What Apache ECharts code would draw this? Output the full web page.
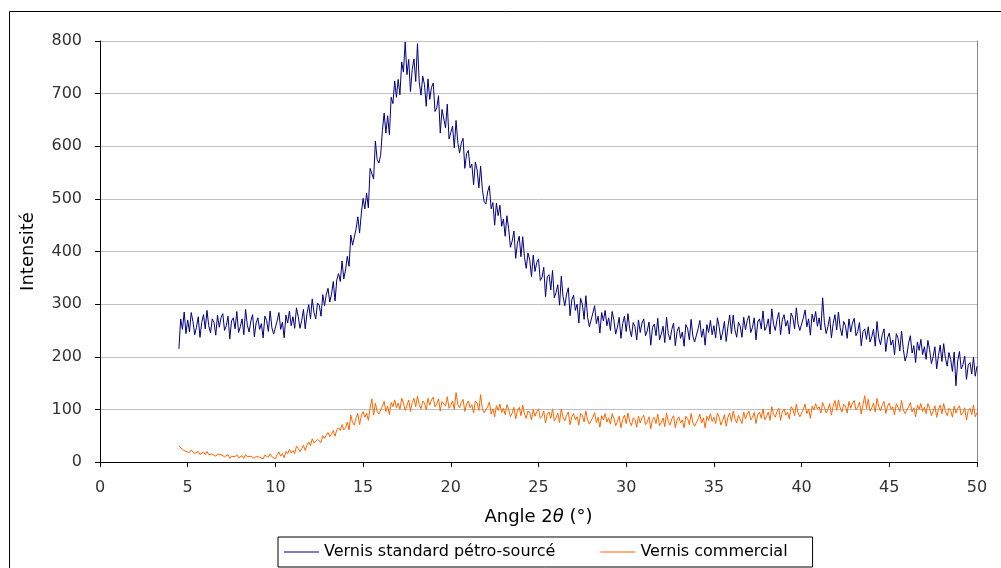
<!DOCTYPE html>
<html>
<head>
<meta charset="utf-8">
<script src="https://cdn.jsdelivr.net/npm/echarts@6/dist/echarts.min.js"></script>
<style>
html,body{margin:0;padding:0;background:#fff;}
#chart{width:1001px;height:568px;}
</style>
</head>
<body>
<div id="chart"></div>
<script>
// Angle grid: first angle and sampling step (degrees 2θ)
const ANGLE_START = 4.5;
const ANGLE_STEP = 0.1;

const seriesNames = ["Vernis standard pétro-sourcé", "Vernis commercial"];
const xTicks = [0, 5, 10, 15, 20, 25, 30, 35, 40, 45, 50];
const yTicks = [0, 100, 200, 300, 400, 500, 600, 700, 800];

// Vernis standard pétro-sourcé (4.5° .. 50.0°)
const standardValues = [
  215, 272, 252, 285, 244,
  270, 247, 284, 267, 242, 256, 276, 237, 265, 280,
  253, 288, 259, 245, 272, 265, 241, 279, 256, 274,
  282, 250, 259, 277, 234, 268, 274, 253, 286, 246,
  257, 272, 242, 290, 260, 247, 268, 280, 238, 264,
  274, 252, 263, 236, 277, 269, 248, 287, 255, 243,
  244, 268, 284, 252, 266, 236, 279, 264, 287, 259,
  276, 254, 293, 277, 254, 269, 290, 253, 282, 299,
  272, 310, 284, 272, 302, 298, 277, 318, 297, 318,
  330, 304, 319, 343, 306, 346, 358, 343, 382, 348,
  365, 391, 372, 431, 412, 411, 443, 466, 435, 473,
  501, 481, 511, 483, 558, 559, 538, 610, 575, 568,
  583, 630, 663, 625, 658, 622, 693, 681, 724, 693,
  727, 698, 760, 741, 798, 736, 765, 704, 746, 766,
  723, 795, 722, 697, 733, 717, 676, 728, 689, 712,
  720, 666, 673, 696, 625, 670, 673, 635, 680, 614,
  626, 638, 597, 649, 607, 587, 606, 615, 558, 586,
  592, 559, 566, 527, 570, 555, 521, 562, 518, 495,
  490, 513, 525, 481, 493, 450, 492, 468, 488, 448,
  462, 429, 468, 443, 408, 420, 439, 387, 416, 429,
  390, 428, 389, 368, 397, 384, 352, 393, 362, 379,
  386, 345, 351, 370, 314, 352, 356, 327, 364, 312,
  322, 337, 298, 353, 314, 297, 319, 331, 278, 308,
  317, 288, 300, 264, 311, 300, 271, 316, 275, 257,
  260, 283, 297, 263, 277, 245, 284, 268, 288, 259,
  274, 250, 286, 269, 243, 256, 275, 235, 263, 277,
  248, 282, 253, 238, 265, 257, 232, 270, 246, 264,
  272, 240, 249, 266, 222, 256, 262, 240, 273, 232,
  243, 258, 227, 275, 244, 232, 252, 264, 221, 248,
  257, 235, 247, 220, 261, 254, 232, 271, 239, 228,
  229, 253, 269, 237, 253, 222, 261, 246, 269, 242,
  259, 236, 274, 257, 232, 247, 267, 229, 257, 279,
  244, 279, 251, 237, 266, 258, 237, 275, 251, 269,
  278, 246, 256, 274, 232, 266, 272, 253, 287, 250,
  257, 272, 243, 291, 262, 250, 271, 284, 242, 270,
  280, 258, 269, 243, 283, 275, 253, 293, 262, 250,
  250, 274, 289, 257, 272, 241, 281, 266, 286, 258,
  274, 251, 312, 265, 244, 257, 276, 236, 263, 280,
  251, 285, 255, 240, 267, 259, 235, 272, 247, 264,
  273, 240, 248, 265, 221, 248, 253, 233, 257, 228,
  238, 252, 220, 267, 236, 223, 242, 253, 210, 236,
  245, 222, 232, 204, 244, 235, 211, 249, 214, 192,
  203, 226, 240, 207, 221, 189, 228, 212, 233, 204,
  219, 195, 231, 213, 187, 200, 219, 177, 202, 222,
  191, 225, 197, 182, 208, 195, 172, 209, 145, 192,
  210, 177, 185, 201, 157, 184, 189, 167, 199, 163,
  182
];

// Vernis commercial (4.5° .. 50.0°)
const commercialValues = [
  31, 28, 24, 27, 20,
  22, 18, 23, 20, 16, 18, 20, 14, 17, 19,
  14, 20, 14, 12, 15, 14, 11, 15, 12, 14,
  15, 10, 12, 14, 7, 11, 11, 10, 14, 8,
  9, 12, 7, 14, 10, 8, 11, 13, 7, 11,
  12, 9, 10, 6, 13, 11, 9, 15, 10, 8,
  6, 14, 19, 11, 16, 8, 20, 16, 24, 17,
  22, 16, 30, 26, 20, 25, 32, 22, 32, 38,
  31, 44, 36, 34, 43, 43, 37, 50, 45, 51,
  56, 48, 53, 60, 49, 61, 65, 60, 71, 61,
  65, 76, 61, 89, 75, 70, 84, 92, 71, 88,
  96, 85, 93, 79, 103, 120, 89, 112, 96, 91,
  92, 106, 115, 96, 106, 90, 113, 105, 118, 103,
  112, 100, 121, 112, 98, 107, 118, 96, 113, 121,
  105, 125, 109, 101, 116, 112, 99, 121, 108, 118,
  123, 105, 110, 120, 97, 115, 118, 106, 124, 102,
  108, 116, 100, 132, 109, 103, 113, 119, 96, 110,
  116, 103, 109, 93, 116, 112, 98, 128, 101, 94,
  93, 105, 114, 91, 101, 86, 107, 98, 110, 94,
  102, 90, 109, 100, 86, 93, 104, 82, 97, 104,
  88, 108, 91, 83, 97, 93, 80, 100, 87, 96,
  101, 83, 87, 97, 74, 91, 95, 83, 101, 78,
  84, 93, 75, 101, 85, 78, 89, 95, 71, 86,
  92, 80, 86, 70, 92, 88, 76, 97, 80, 72,
  72, 85, 94, 75, 85, 66, 88, 80, 92, 76,
  84, 72, 92, 83, 69, 77, 87, 65, 81, 89,
  73, 93, 77, 69, 84, 80, 66, 87, 74, 84,
  89, 71, 76, 86, 63, 81, 85, 73, 91, 69,
  75, 84, 67, 93, 77, 70, 82, 88, 65, 80,
  86, 74, 80, 65, 87, 83, 71, 92, 75, 68,
  69, 82, 91, 74, 84, 65, 87, 79, 92, 77,
  85, 73, 93, 85, 70, 79, 90, 68, 85, 93,
  77, 97, 82, 74, 89, 86, 73, 95, 82, 91,
  97, 80, 85, 94, 73, 90, 95, 83, 101, 80,
  86, 95, 79, 105, 91, 85, 96, 102, 79, 95,
  101, 89, 95, 82, 105, 101, 88, 110, 93, 86,
  87, 100, 110, 92, 101, 83, 106, 99, 111, 101,
  105, 93, 113, 104, 93, 100, 111, 89, 106, 117,
  98, 118, 103, 95, 110, 106, 93, 115, 102, 112,
  117, 99, 104, 114, 91, 109, 126, 101, 119, 97,
  103, 112, 95, 121, 105, 97, 109, 115, 92, 106,
  112, 100, 105, 90, 111, 108, 96, 117, 99, 92,
  92, 105, 113, 95, 103, 86, 108, 100, 111, 96,
  104, 92, 111, 102, 88, 96, 107, 85, 100, 108,
  92, 111, 96, 88, 102, 98, 85, 106, 93, 102,
  107, 89, 94, 103, 80, 98, 102, 90, 108, 86,
  94
];

const FONT = "'DejaVu Sans', Verdana, sans-serif";

function toPairs(values) {
  return values.map((v, i) => [Math.round((ANGLE_START + i * ANGLE_STEP) * 10) / 10, v]);
}

const chart = echarts.init(document.getElementById('chart'), null, {renderer: 'canvas'});

const option = {
  backgroundColor: '#ffffff',
  animation: false,
  textStyle: {fontFamily: FONT},
  graphic: [{
    type: 'rect',
    silent: true,
    shape: {x: 9.5, y: 11.5, width: 1200, height: 800},
    style: {fill: 'none', stroke: '#000000', lineWidth: 1}
  }],
  grid: {left: 100, right: 24, top: 41, bottom: 106, containLabel: false},
  legend: {
    data: seriesNames,
    left: 278,
    top: 537,
    orient: 'horizontal',
    icon: 'rect',
    itemWidth: 35,
    itemHeight: 1,
    itemGap: 45,
    padding: [7, 25, 7, 6],
    borderColor: '#000000',
    borderWidth: 1,
    backgroundColor: '#ffffff',
    textStyle: {fontSize: 16, color: '#000000', fontFamily: FONT}
  },
  xAxis: {
    type: 'value',
    min: xTicks[0],
    max: xTicks[xTicks.length - 1],
    interval: xTicks[1] - xTicks[0],
    name: '{a|Angle 2}{b|θ}{a| (°)}',
    nameLocation: 'middle',
    nameGap: 46,
    nameTextStyle: {
      rich: {
        a: {fontSize: 18, color: '#000000', fontFamily: FONT},
        b: {fontSize: 18, color: '#000000', fontFamily: FONT, fontStyle: 'italic'}
      }
    },
    axisLine: {show: true, onZero: false, lineStyle: {color: '#000000', width: 1}},
    axisTick: {show: true, inside: false, length: 5, lineStyle: {color: '#000000'}},
    axisLabel: {fontSize: 16, color: '#333333', margin: 18, fontFamily: FONT},
    splitLine: {show: false}
  },
  yAxis: [{
    type: 'value',
    min: yTicks[0],
    max: yTicks[yTicks.length - 1],
    interval: yTicks[1] - yTicks[0],
    name: 'Intensité',
    nameLocation: 'middle',
    nameGap: 63,
    nameTextStyle: {fontSize: 18, color: '#000000', fontFamily: FONT},
    axisLine: {show: true, lineStyle: {color: '#000000', width: 1}},
    axisTick: {show: true, inside: false, length: 5, lineStyle: {color: '#000000'}},
    axisLabel: {fontSize: 16, color: '#333333', margin: 18, fontFamily: FONT},
    splitLine: {show: true, lineStyle: {color: '#c0c0c0', width: 1}}
  }, {
    type: 'value',
    position: 'right',
    min: yTicks[0],
    max: yTicks[yTicks.length - 1],
    interval: yTicks[1] - yTicks[0],
    axisLine: {show: true, lineStyle: {color: '#888888', width: 1}},
    axisTick: {show: false},
    axisLabel: {show: false},
    splitLine: {show: false}
  }],
  series: [{
    name: seriesNames[0],
    type: 'line',
    data: toPairs(standardValues),
    showSymbol: false,
    symbol: 'none',
    sampling: null,
    lineStyle: {color: '#000080', width: 1},
    itemStyle: {color: '#000080'},
    z: 3
  }, {
    name: seriesNames[1],
    type: 'line',
    data: toPairs(commercialValues),
    showSymbol: false,
    symbol: 'none',
    sampling: null,
    lineStyle: {color: '#ff6600', width: 1},
    itemStyle: {color: '#ff6600'},
    z: 2
  }]
};

chart.setOption(option);
</script>
</body>
</html>
